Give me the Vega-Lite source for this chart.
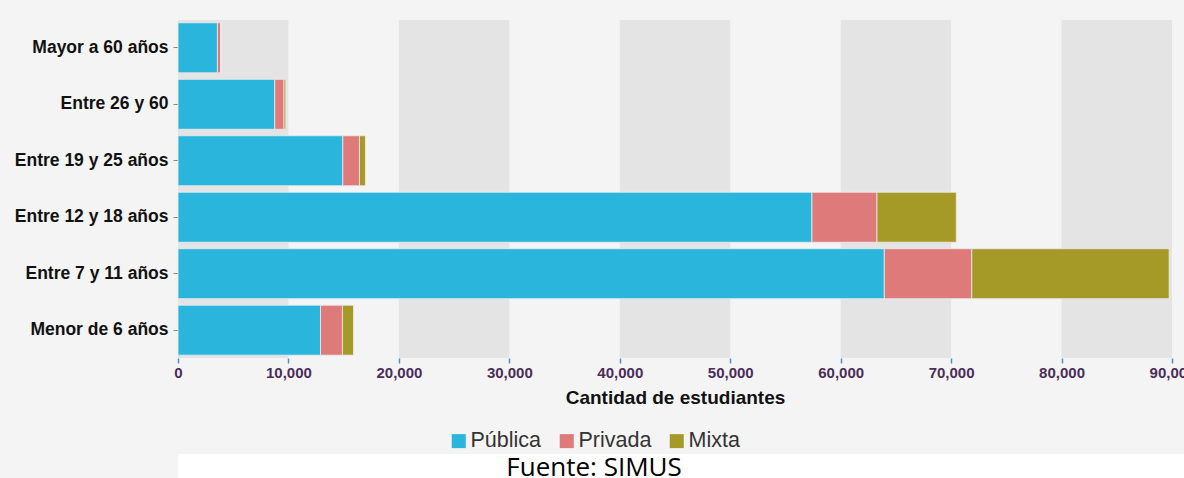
{
  "$schema": "https://vega.github.io/schema/vega-lite/v6.json",
  "background": "#f4f4f4",
  "padding": {"left": 0, "top": 20, "right": 0, "bottom": 0},
  "spacing": 2,
  "datasets": {
    "bandas": [
      {"inicio": 0, "fin": 10000},
      {"inicio": 20000, "fin": 30000},
      {"inicio": 40000, "fin": 50000},
      {"inicio": 60000, "fin": 70000},
      {"inicio": 80000, "fin": 90000}
    ],
    "estudiantes": [
      {"grupo": "Mayor a 60 años", "tipo": "Pública", "orden": 1, "cantidad": 3570},
      {"grupo": "Mayor a 60 años", "tipo": "Privada", "orden": 2, "cantidad": 300},
      {"grupo": "Mayor a 60 años", "tipo": "Mixta", "orden": 3, "cantidad": 10},
      {"grupo": "Entre 26 y 60", "tipo": "Pública", "orden": 1, "cantidad": 8760},
      {"grupo": "Entre 26 y 60", "tipo": "Privada", "orden": 2, "cantidad": 840},
      {"grupo": "Entre 26 y 60", "tipo": "Mixta", "orden": 3, "cantidad": 160},
      {"grupo": "Entre 19 y 25 años", "tipo": "Pública", "orden": 1, "cantidad": 14920},
      {"grupo": "Entre 19 y 25 años", "tipo": "Privada", "orden": 2, "cantidad": 1510},
      {"grupo": "Entre 19 y 25 años", "tipo": "Mixta", "orden": 3, "cantidad": 540},
      {"grupo": "Entre 12 y 18 años", "tipo": "Pública", "orden": 1, "cantidad": 57400},
      {"grupo": "Entre 12 y 18 años", "tipo": "Privada", "orden": 2, "cantidad": 5890},
      {"grupo": "Entre 12 y 18 años", "tipo": "Mixta", "orden": 3, "cantidad": 7180},
      {"grupo": "Entre 7 y 11 años", "tipo": "Pública", "orden": 1, "cantidad": 63950},
      {"grupo": "Entre 7 y 11 años", "tipo": "Privada", "orden": 2, "cantidad": 7920},
      {"grupo": "Entre 7 y 11 años", "tipo": "Mixta", "orden": 3, "cantidad": 17870},
      {"grupo": "Menor de 6 años", "tipo": "Pública", "orden": 1, "cantidad": 12900},
      {"grupo": "Menor de 6 años", "tipo": "Privada", "orden": 2, "cantidad": 1990},
      {"grupo": "Menor de 6 años", "tipo": "Mixta", "orden": 3, "cantidad": 1000}
    ],
    "fuente": [{"texto": "Fuente: SIMUS"}]
  },
  "vconcat": [
    {
      "width": 994,
      "height": 338,
      "view": {"fill": "#f4f4f4", "stroke": null},
      "layer": [
        {
          "data": {"name": "bandas"},
          "mark": {"type": "rect", "color": "#e4e4e4"},
          "encoding": {
            "x": {
              "field": "inicio",
              "type": "quantitative",
              "scale": {"domain": [0, 90000], "nice": false},
              "axis": {
                "title": "Cantidad de estudiantes",
                "values": [0, 10000, 20000, 30000, 40000, 50000, 60000, 70000, 80000, 90000],
                "format": ",.0f"
              }
            },
            "x2": {"field": "fin"}
          }
        },
        {
          "data": {"name": "estudiantes"},
          "mark": {"type": "bar", "stroke": "#eeeeee", "strokeWidth": 0.8},
          "encoding": {
            "y": {
              "field": "grupo",
              "type": "nominal",
              "sort": ["Mayor a 60 años", "Entre 26 y 60", "Entre 19 y 25 años", "Entre 12 y 18 años", "Entre 7 y 11 años", "Menor de 6 años"],
              "scale": {"paddingInner": 0.115, "paddingOuter": 0.05},
              "axis": {
                "title": null,
                "domain": false,
                "labelFont": "Liberation Sans",
                "labelFontWeight": "bold",
                "labelFontSize": 17.5,
                "labelColor": "#111111",
                "tickColor": "#888888",
                "tickSize": 5,
                "labelPadding": 5,
                "minExtent": 178
              }
            },
            "x": {
              "field": "cantidad",
              "type": "quantitative",
              "stack": "zero",
              "scale": {"domain": [0, 90000], "nice": false},
              "axis": {
                "title": "Cantidad de estudiantes",
                "values": [0, 10000, 20000, 30000, 40000, 50000, 60000, 70000, 80000, 90000],
                "format": ",.0f"
              }
            },
            "color": {
              "field": "tipo",
              "type": "nominal",
              "scale": {"domain": ["Pública", "Privada", "Mixta"], "range": ["#29b5dc", "#df7a7a", "#a59a27"]},
              "legend": {
                "title": null,
                "orient": "none",
                "legendX": 270,
                "legendY": 410,
                "direction": "horizontal",
                "symbolType": "square",
                "symbolSize": 196,
                "symbolStrokeWidth": 0,
                "symbolOpacity": 1,
                "labelFont": "Liberation Sans",
                "labelFontSize": 21.5,
                "labelColor": "#333333",
                "labelOffset": 1,
                "columnPadding": 14
              }
            },
            "order": {"field": "orden", "type": "quantitative"}
          }
        }
      ]
    },
    {
      "width": 1006,
      "height": 25,
      "view": {"fill": "#ffffff", "stroke": null},
      "data": {"name": "fuente"},
      "mark": {"type": "text", "font": "Open Sans", "fontSize": 26, "color": "#000000", "dx": -87, "dy": 1},
      "encoding": {"text": {"field": "texto", "type": "nominal"}}
    }
  ],
  "resolve": {"legend": {"color": "independent"}},
  "config": {
    "axisX": {
      "grid": false,
      "domain": false,
      "labelFlush": false,
      "labelOverlap": false,
      "labelFont": "Liberation Sans",
      "labelFontWeight": "bold",
      "labelFontSize": 15,
      "labelColor": "#4b2d5b",
      "labelPadding": 2,
      "tickColor": "#4a8fd8",
      "tickSize": 5,
      "tickWidth": 1.5,
      "titleFont": "Liberation Sans",
      "titleFontWeight": "bold",
      "titleFontSize": 19,
      "titleColor": "#111111",
      "titlePadding": 8
    }
  }
}
